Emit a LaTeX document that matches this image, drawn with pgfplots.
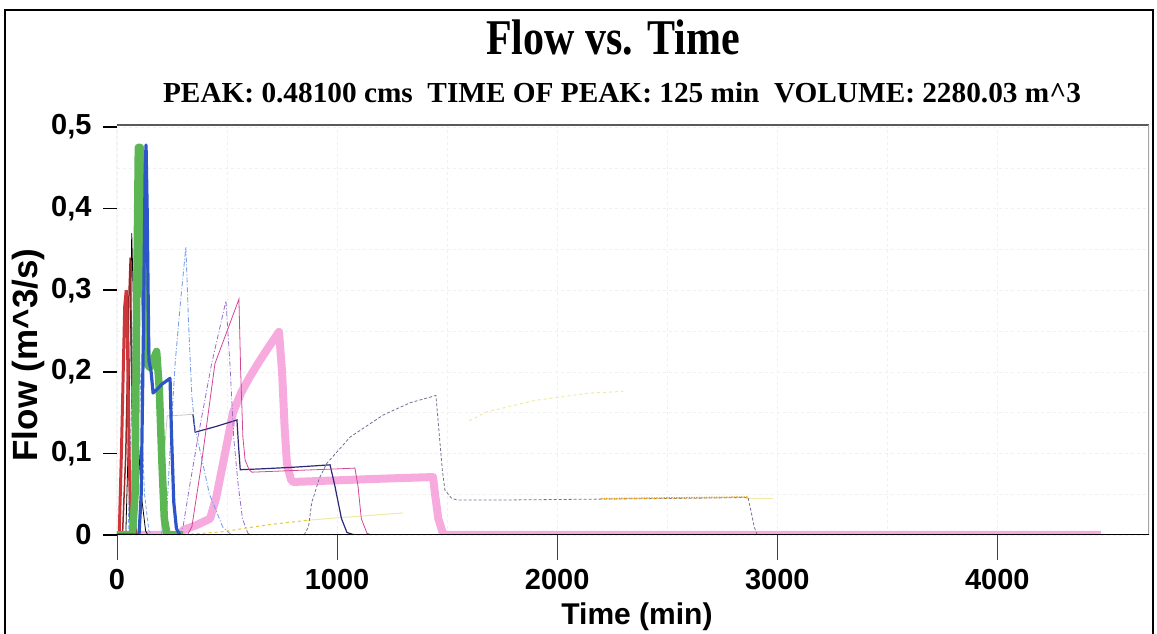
\documentclass[border=0pt]{standalone}
\usepackage{fontspec}
\setmainfont{Liberation Sans}
\newfontfamily\timesfont{Liberation Serif}
\usepackage{pgfplots}
\pgfplotsset{compat=1.18}
\definecolor{pinkthick}{RGB}{247,170,222}
\definecolor{greenthick}{RGB}{92,182,84}
\definecolor{bluemain}{RGB}{45,85,200}
\definecolor{redmain}{RGB}{205,55,60}
\definecolor{darkred}{RGB}{150,40,40}
\definecolor{navyline}{RGB}{45,40,120}
\definecolor{magline}{RGB}{210,70,150}
\definecolor{purpline}{RGB}{150,110,210}
\definecolor{lightblue}{RGB}{120,160,235}
\definecolor{grayblue}{RGB}{115,115,145}
\definecolor{orangeline}{RGB}{225,160,30}
\definecolor{yellowfaint}{RGB}{240,232,165}
\definecolor{yellowlow}{RGB}{225,200,60}
\begin{document}
\begin{tikzpicture}[x=1pt,y=1pt]
\useasboundingbox (0,0) rectangle (1157,634);
\draw[line width=1.5pt] (5,-5)--(5,624)--(1153,624)--(1153,-5);
\node[anchor=base,inner sep=0] at (613,579) {\scalebox{0.84}[1]{\timesfont\bfseries\fontsize{50}{50}\selectfont Flow vs. Time}};
\node[anchor=base,inner sep=0] at (622,531) {\scalebox{1.01}[1]{\timesfont\bfseries\fontsize{29}{29}\selectfont PEAK: 0.48100 cms\ \ TIME OF PEAK: 125 min\ \ VOLUME: 2280.03 m\textasciicircum 3}};
\node[anchor=base,inner sep=0] at (637,9) {\bfseries\fontsize{30}{30}\selectfont Time (min)};
\node[anchor=base,inner sep=0,rotate=90] at (38,279) {\bfseries\fontsize{35}{35}\selectfont Flow (m\textasciicircum 3/s)};
\begin{axis}[
  at={(117pt,99pt)}, anchor=south west, scale only axis,
  width=1032pt, height=410pt,
  xmin=0, xmax=4689, ymin=0, ymax=0.5025,
  xtick={0,1000,2000,3000,4000},
  ytick={0,0.1,0.2,0.3,0.4,0.5},
  minor x tick num=1, minor y tick num=1,
  tick pos=left, tick align=outside,
  major tick length=0pt,
  xtick style={draw=none}, ytick style={draw=none},
  grid=both,
  major grid style={gray!12, dashed, line width=0.6pt},
  minor grid style={gray!12, dashed, line width=0.6pt},
  axis line style={draw=none},
  /pgf/number format/assume math mode=true,
  ticklabel style={font=\bfseries\fontsize{29}{29}\selectfont},
  xticklabel style={yshift=-31pt, /pgf/number format/1000 sep={}},
  yticklabel style={xshift=-22pt, /pgf/number format/.cd, use comma, fixed, precision=1},
  scaled y ticks=false, scaled x ticks=false,
]
% thick pink
\addplot[pinkthick, line width=8pt, line join=round] coordinates {
(0,0)(290,0)(300,0.006)(360,0.012)(423,0.02)(450,0.045)(482,0.088)(527,0.15)(565,0.175)(604,0.194)(640,0.21)(681,0.227)(736,0.249)(750,0.2)(762,0.13)(772,0.088)(790,0.068)(800,0.065)(1000,0.067)(1200,0.069)(1436,0.071)(1445,0.05)(1460,0.02)(1481,0.002)(1500,0)(4470,0)};
% faint yellow upper
\addplot[yellowfaint, line width=1pt, dashed] coordinates {
(1600,0.14)(1681,0.151)(1900,0.165)(2150,0.174)(2300,0.176)};
\addplot[yellowfaint, line width=1.5pt] coordinates {
(2860,0.045)(2980,0.045)};
% low yellow
\addplot[yellowlow, line width=1pt, dashed] coordinates {
(280,0)(480,0.004)(600,0.009)(700,0.013)(863,0.018)};
\addplot[yellowfaint, line width=1pt] coordinates {
(863,0.018)(1000,0.021)(1300,0.027)};
% gray-blue curve
\addplot[grayblue, line width=0.8pt, densely dashed] coordinates {
(850,0)(870,0.01)(885,0.04)(920,0.07)(954,0.088)(1059,0.12)(1209,0.147)(1331,0.162)(1449,0.171)(1462,0.13)(1478,0.08)(1490,0.055)(1520,0.045)(1545,0.043)(1800,0.043)(2200,0.044)(2600,0.045)(2867,0.046)(2880,0.03)(2895,0.01)(2908,0.001)(2930,0)};
\addplot[orangeline, line width=1.5pt, densely dotted] coordinates {
(2200,0.0445)(2867,0.0465)};
% light gray plateau
\addplot[gray!45, line width=0.8pt] coordinates {
(200,0)(215,0.1)(228,0.146)(300,0.147)(345,0.148)};
% navy
\addplot[navyline, line width=1.2pt] coordinates {
(345,0.148)(355,0.126)(450,0.133)(545,0.141)(552,0.11)(560,0.08)(650,0.081)(800,0.083)(968,0.086)(990,0.06)(1020,0.02)(1045,0.003)(1080,0)};
% magenta thin
\addplot[magline, line width=0.8pt] coordinates {
(320,0)(340,0.01)(380,0.08)(445,0.21)(554,0.289)(562,0.2)(572,0.12)(582,0.092)(600,0.08)(613,0.077)(800,0.079)(1000,0.081)(1081,0.082)(1095,0.06)(1110,0.02)(1136,0.002)(1160,0)};
% purple dash-dot
\addplot[purpline, line width=0.8pt, dash pattern=on 5pt off 2pt on 1pt off 2pt] coordinates {
(280,0)(300,0.01)(330,0.06)(368,0.12)(430,0.21)(495,0.287)(513,0.21)(530,0.12)(550,0.063)(570,0.02)(595,0.002)(620,0)};
% light blue dash-dot (0.355 peak)
\addplot[lightblue, line width=0.9pt, dash pattern=on 5pt off 2pt on 1pt off 2pt] coordinates {
(200,0)(225,0.02)(240,0.1)(264,0.21)(290,0.29)(313,0.353)(325,0.26)(340,0.17)(355,0.13)(380,0.1)(420,0.05)(480,0.01)(520,0)};
% light blue (0.415 peak)
\addplot[lightblue, line width=0.8pt, dash pattern=on 4pt off 2pt] coordinates {
(50,0)(70,0.2)(82,0.415)(95,0.3)(110,0.15)(125,0.05)(145,0.005)(160,0)};
% black thin
\addplot[black, line width=0.8pt] coordinates {
(0,0)(40,0)(55,0.15)(67,0.37)(75,0.28)(90,0.15)(110,0.05)(130,0.005)(140,0)};
% dark red / orange red
\addplot[darkred, line width=1.5pt] coordinates {
(0,0)(25,0)(40,0.1)(55,0.3)(60,0.34)(65,0.25)(72,0.1)(80,0.02)(90,0)};
% red
\addplot[redmain, line width=3pt] coordinates {
(0,0)(10,0)(20,0.1)(35,0.28)(42,0.3)(50,0.2)(55,0.1)(62,0.02)(70,0)};
% green thick
\addplot[greenthick, line width=7.5pt, line join=round] coordinates {
(0,0)(70,0)(82,0.05)(90,0.3)(97,0.475)(106,0.475)(115,0.42)(125,0.3)(136,0.21)(150,0.205)(165,0.215)(180,0.225)(192,0.18)(204,0.09)(215,0.02)(228,0)(300,0)};
% blue
\addplot[bluemain, line width=3.2pt, line join=round] coordinates {
(0,0)(100,0)(110,0.05)(120,0.25)(128,0.45)(132,0.478)(137,0.4)(145,0.214)(155,0.2)(164,0.174)(180,0.178)(205,0.185)(241,0.192)(248,0.12)(258,0.04)(270,0.008)(285,0)};
% axis frame
\draw[gray!60, line width=1pt] (rel axis cs:0,0)--(rel axis cs:0,1);
\draw[gray!70!black, line width=1.5pt] (rel axis cs:0,1)--(rel axis cs:1,1);
\draw[gray!70, line width=3pt] (rel axis cs:1,0)--(rel axis cs:1,1);
\draw[gray!55, line width=4pt] ([yshift=-4pt]rel axis cs:0,0)--([yshift=-4pt]rel axis cs:1,0);
\draw[black, line width=2.5pt] (rel axis cs:0,0)--(rel axis cs:1,0);
\end{axis}
% tick marks (in picture coordinates)
\foreach \xx in {0,1000,2000,3000,4000} {\draw[gray!50!black, line width=0.8pt] ({117+\xx*0.22008},99)--({117+\xx*0.22008},74);}
\foreach \yy in {0,1,2,3,4,5} {\draw[black, line width=1.5pt] (103,{99+\yy*81.6})--(117,{99+\yy*81.6});}
\end{tikzpicture}
\end{document}
